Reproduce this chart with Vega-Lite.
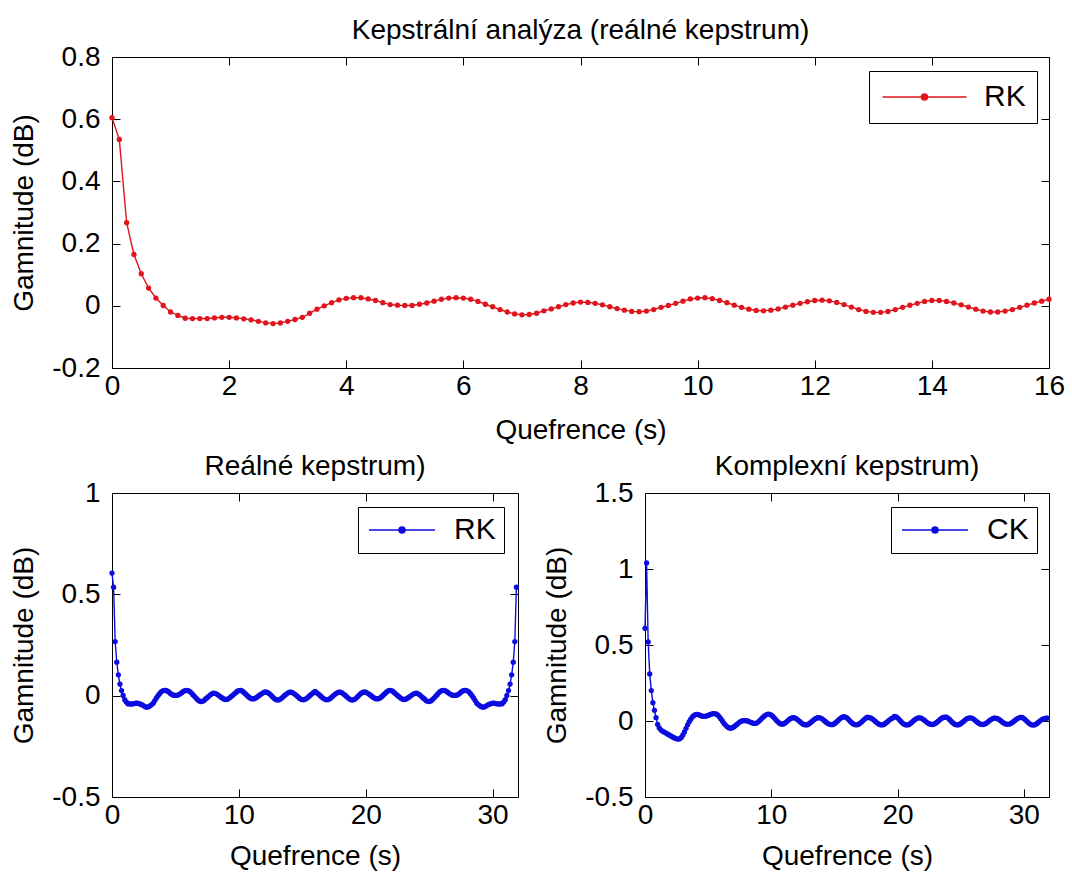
{
"$schema": "https://vega.github.io/schema/vega-lite/v6.json",
"background": "white",
"padding": {"left": 10, "top": 16, "right": 5, "bottom": 5},
"datasets": {
"rk": [
{"q":0,"v":0.605},{"q":0.125,"v":0.535},{"q":0.25,"v":0.267},{"q":0.375,"v":0.165},{"q":0.5,"v":0.103},{"q":0.625,"v":0.057},{"q":0.75,"v":0.025},{"q":0.875,"v":0.001},
{"q":1,"v":-0.02},{"q":1.125,"v":-0.031},{"q":1.25,"v":-0.04},{"q":1.375,"v":-0.041},{"q":1.5,"v":-0.041},{"q":1.625,"v":-0.041},{"q":1.75,"v":-0.039},{"q":1.875,"v":-0.037},
{"q":2,"v":-0.037},{"q":2.125,"v":-0.039},{"q":2.25,"v":-0.042},{"q":2.375,"v":-0.045},{"q":2.5,"v":-0.05},{"q":2.625,"v":-0.055},{"q":2.75,"v":-0.057},{"q":2.875,"v":-0.055},
{"q":3,"v":-0.05},{"q":3.125,"v":-0.044},{"q":3.25,"v":-0.037},{"q":3.375,"v":-0.024},{"q":3.5,"v":-0.011},{"q":3.625,"v":0},{"q":3.75,"v":0.01},{"q":3.875,"v":0.019},
{"q":4,"v":0.024},{"q":4.125,"v":0.026},{"q":4.25,"v":0.026},{"q":4.375,"v":0.022},{"q":4.5,"v":0.017},{"q":4.625,"v":0.01},{"q":4.75,"v":0.004},{"q":4.875,"v":0.002},
{"q":5,"v":0.001},{"q":5.125,"v":0.001},{"q":5.25,"v":0.005},{"q":5.375,"v":0.009},{"q":5.5,"v":0.015},{"q":5.625,"v":0.021},{"q":5.75,"v":0.025},{"q":5.875,"v":0.026},
{"q":6,"v":0.025},{"q":6.125,"v":0.021},{"q":6.25,"v":0.014},{"q":6.375,"v":0.005},{"q":6.5,"v":-0.003},{"q":6.625,"v":-0.012},{"q":6.75,"v":-0.02},{"q":6.875,"v":-0.026},
{"q":7,"v":-0.029},{"q":7.125,"v":-0.028},{"q":7.25,"v":-0.024},{"q":7.375,"v":-0.016},{"q":7.5,"v":-0.01},{"q":7.625,"v":-0.003},{"q":7.75,"v":0.004},{"q":7.875,"v":0.009},
{"q":8,"v":0.012},{"q":8.125,"v":0.011},{"q":8.25,"v":0.008},{"q":8.375,"v":0.003},{"q":8.5,"v":-0.003},{"q":8.625,"v":-0.009},{"q":8.75,"v":-0.014},{"q":8.875,"v":-0.018},
{"q":9,"v":-0.019},{"q":9.125,"v":-0.017},{"q":9.25,"v":-0.012},{"q":9.375,"v":-0.005},{"q":9.5,"v":0.001},{"q":9.625,"v":0.008},{"q":9.75,"v":0.015},{"q":9.875,"v":0.022},
{"q":10,"v":0.025},{"q":10.125,"v":0.026},{"q":10.25,"v":0.023},{"q":10.375,"v":0.017},{"q":10.5,"v":0.01},{"q":10.625,"v":0.002},{"q":10.75,"v":-0.005},{"q":10.875,"v":-0.011},
{"q":11,"v":-0.015},{"q":11.125,"v":-0.016},{"q":11.25,"v":-0.014},{"q":11.375,"v":-0.01},{"q":11.5,"v":-0.004},{"q":11.625,"v":0.002},{"q":11.75,"v":0.008},{"q":11.875,"v":0.013},
{"q":12,"v":0.017},{"q":12.125,"v":0.018},{"q":12.25,"v":0.016},{"q":12.375,"v":0.011},{"q":12.5,"v":0.004},{"q":12.625,"v":-0.004},{"q":12.75,"v":-0.012},{"q":12.875,"v":-0.018},
{"q":13,"v":-0.021},{"q":13.125,"v":-0.021},{"q":13.25,"v":-0.018},{"q":13.375,"v":-0.012},{"q":13.5,"v":-0.005},{"q":13.625,"v":0.002},{"q":13.75,"v":0.008},{"q":13.875,"v":0.014},
{"q":14,"v":0.017},{"q":14.125,"v":0.017},{"q":14.25,"v":0.014},{"q":14.375,"v":0.009},{"q":14.5,"v":0.003},{"q":14.625,"v":-0.004},{"q":14.75,"v":-0.011},{"q":14.875,"v":-0.017},
{"q":15,"v":-0.02},{"q":15.125,"v":-0.02},{"q":15.25,"v":-0.017},{"q":15.375,"v":-0.012},{"q":15.5,"v":-0.005},{"q":15.625,"v":0.002},{"q":15.75,"v":0.009},{"q":15.875,"v":0.015},
{"q":16,"v":0.021},{"q":16.125,"v":0.015},{"q":16.25,"v":0.009},{"q":16.375,"v":0.002},{"q":16.5,"v":-0.005},{"q":16.625,"v":-0.012},{"q":16.75,"v":-0.017},{"q":16.875,"v":-0.02},
{"q":17,"v":-0.02},{"q":17.125,"v":-0.017},{"q":17.25,"v":-0.011},{"q":17.375,"v":-0.004},{"q":17.5,"v":0.003},{"q":17.625,"v":0.009},{"q":17.75,"v":0.014},{"q":17.875,"v":0.017},
{"q":18,"v":0.017},{"q":18.125,"v":0.014},{"q":18.25,"v":0.008},{"q":18.375,"v":0.002},{"q":18.5,"v":-0.005},{"q":18.625,"v":-0.012},{"q":18.75,"v":-0.018},{"q":18.875,"v":-0.021},
{"q":19,"v":-0.021},{"q":19.125,"v":-0.018},{"q":19.25,"v":-0.012},{"q":19.375,"v":-0.004},{"q":19.5,"v":0.004},{"q":19.625,"v":0.011},{"q":19.75,"v":0.016},{"q":19.875,"v":0.018},
{"q":20,"v":0.017},{"q":20.125,"v":0.013},{"q":20.25,"v":0.008},{"q":20.375,"v":0.002},{"q":20.5,"v":-0.004},{"q":20.625,"v":-0.01},{"q":20.75,"v":-0.014},{"q":20.875,"v":-0.016},
{"q":21,"v":-0.015},{"q":21.125,"v":-0.011},{"q":21.25,"v":-0.005},{"q":21.375,"v":0.002},{"q":21.5,"v":0.01},{"q":21.625,"v":0.017},{"q":21.75,"v":0.023},{"q":21.875,"v":0.026},
{"q":22,"v":0.025},{"q":22.125,"v":0.022},{"q":22.25,"v":0.015},{"q":22.375,"v":0.008},{"q":22.5,"v":0.001},{"q":22.625,"v":-0.005},{"q":22.75,"v":-0.012},{"q":22.875,"v":-0.017},
{"q":23,"v":-0.019},{"q":23.125,"v":-0.018},{"q":23.25,"v":-0.014},{"q":23.375,"v":-0.009},{"q":23.5,"v":-0.003},{"q":23.625,"v":0.003},{"q":23.75,"v":0.008},{"q":23.875,"v":0.011},
{"q":24,"v":0.012},{"q":24.125,"v":0.009},{"q":24.25,"v":0.004},{"q":24.375,"v":-0.003},{"q":24.5,"v":-0.01},{"q":24.625,"v":-0.016},{"q":24.75,"v":-0.024},{"q":24.875,"v":-0.028},
{"q":25,"v":-0.029},{"q":25.125,"v":-0.026},{"q":25.25,"v":-0.02},{"q":25.375,"v":-0.012},{"q":25.5,"v":-0.003},{"q":25.625,"v":0.005},{"q":25.75,"v":0.014},{"q":25.875,"v":0.021},
{"q":26,"v":0.025},{"q":26.125,"v":0.026},{"q":26.25,"v":0.025},{"q":26.375,"v":0.021},{"q":26.5,"v":0.015},{"q":26.625,"v":0.009},{"q":26.75,"v":0.005},{"q":26.875,"v":0.001},
{"q":27,"v":0.001},{"q":27.125,"v":0.002},{"q":27.25,"v":0.004},{"q":27.375,"v":0.01},{"q":27.5,"v":0.017},{"q":27.625,"v":0.022},{"q":27.75,"v":0.026},{"q":27.875,"v":0.026},
{"q":28,"v":0.024},{"q":28.125,"v":0.019},{"q":28.25,"v":0.01},{"q":28.375,"v":0},{"q":28.5,"v":-0.011},{"q":28.625,"v":-0.024},{"q":28.75,"v":-0.037},{"q":28.875,"v":-0.044},
{"q":29,"v":-0.05},{"q":29.125,"v":-0.055},{"q":29.25,"v":-0.057},{"q":29.375,"v":-0.055},{"q":29.5,"v":-0.05},{"q":29.625,"v":-0.045},{"q":29.75,"v":-0.042},{"q":29.875,"v":-0.039},
{"q":30,"v":-0.037},{"q":30.125,"v":-0.037},{"q":30.25,"v":-0.039},{"q":30.375,"v":-0.041},{"q":30.5,"v":-0.041},{"q":30.625,"v":-0.041},{"q":30.75,"v":-0.04},{"q":30.875,"v":-0.031},
{"q":31,"v":-0.02},{"q":31.125,"v":0.001},{"q":31.25,"v":0.025},{"q":31.375,"v":0.057},{"q":31.5,"v":0.103},{"q":31.625,"v":0.165},{"q":31.75,"v":0.267},{"q":31.875,"v":0.535}
],
"ck": [
{"q":0,"v":0.61},{"q":0.125,"v":1.04},{"q":0.25,"v":0.52},{"q":0.375,"v":0.31},{"q":0.5,"v":0.2},{"q":0.625,"v":0.12},{"q":0.75,"v":0.07},{"q":0.875,"v":0.022},
{"q":1,"v":-0.022},{"q":1.125,"v":-0.045},{"q":1.25,"v":-0.058},{"q":1.375,"v":-0.066},{"q":1.5,"v":-0.072},{"q":1.625,"v":-0.078},{"q":1.75,"v":-0.084},{"q":1.875,"v":-0.09},
{"q":2,"v":-0.096},{"q":2.125,"v":-0.102},{"q":2.25,"v":-0.108},{"q":2.375,"v":-0.113},{"q":2.5,"v":-0.117},{"q":2.625,"v":-0.119},{"q":2.75,"v":-0.117},{"q":2.875,"v":-0.108},
{"q":3,"v":-0.092},{"q":3.125,"v":-0.072},{"q":3.25,"v":-0.048},{"q":3.375,"v":-0.025},{"q":3.5,"v":-0.005},{"q":3.625,"v":0.012},{"q":3.75,"v":0.027},{"q":3.875,"v":0.037},
{"q":4,"v":0.042},{"q":4.125,"v":0.043},{"q":4.25,"v":0.041},{"q":4.375,"v":0.037},{"q":4.5,"v":0.033},{"q":4.625,"v":0.031},{"q":4.75,"v":0.031},{"q":4.875,"v":0.033},
{"q":5,"v":0.037},{"q":5.125,"v":0.041},{"q":5.25,"v":0.045},{"q":5.375,"v":0.048},{"q":5.5,"v":0.049},{"q":5.625,"v":0.047},{"q":5.75,"v":0.04},{"q":5.875,"v":0.029},
{"q":6,"v":0.015},{"q":6.125,"v":0},{"q":6.25,"v":-0.014},{"q":6.375,"v":-0.027},{"q":6.5,"v":-0.037},{"q":6.625,"v":-0.044},{"q":6.75,"v":-0.047},{"q":6.875,"v":-0.046},
{"q":7,"v":-0.041},{"q":7.125,"v":-0.033},{"q":7.25,"v":-0.024},{"q":7.375,"v":-0.015},{"q":7.5,"v":-0.007},{"q":7.625,"v":-0.001},{"q":7.75,"v":0.002},{"q":7.875,"v":0.003},
{"q":8,"v":0.002},{"q":8.125,"v":0},{"q":8.25,"v":-0.004},{"q":8.375,"v":-0.009},{"q":8.5,"v":-0.013},{"q":8.625,"v":-0.016},{"q":8.75,"v":-0.016},{"q":8.875,"v":-0.012},
{"q":9,"v":-0.004},{"q":9.125,"v":0.006},{"q":9.25,"v":0.017},{"q":9.375,"v":0.027},{"q":9.5,"v":0.036},{"q":9.625,"v":0.042},{"q":9.75,"v":0.045},{"q":9.875,"v":0.044},
{"q":10,"v":0.039},{"q":10.125,"v":0.03},{"q":10.25,"v":0.019},{"q":10.375,"v":0.007},{"q":10.5,"v":-0.004},{"q":10.625,"v":-0.013},{"q":10.75,"v":-0.019},{"q":10.875,"v":-0.021},
{"q":11,"v":-0.018},{"q":11.125,"v":-0.011},{"q":11.25,"v":-0.002},{"q":11.375,"v":0.007},{"q":11.5,"v":0.015},{"q":11.625,"v":0.02},{"q":11.75,"v":0.022},{"q":11.875,"v":0.02},
{"q":12,"v":0.014},{"q":12.125,"v":0.006},{"q":12.25,"v":-0.003},{"q":12.375,"v":-0.012},{"q":12.5,"v":-0.019},{"q":12.625,"v":-0.024},{"q":12.75,"v":-0.026},{"q":12.875,"v":-0.024},
{"q":13,"v":-0.018},{"q":13.125,"v":-0.01},{"q":13.25,"v":-0.001},{"q":13.375,"v":0.008},{"q":13.5,"v":0.015},{"q":13.625,"v":0.02},{"q":13.75,"v":0.022},{"q":13.875,"v":0.021},
{"q":14,"v":0.016},{"q":14.125,"v":0.008},{"q":14.25,"v":-0.001},{"q":14.375,"v":-0.01},{"q":14.5,"v":-0.017},{"q":14.625,"v":-0.022},{"q":14.75,"v":-0.024},{"q":14.875,"v":-0.023},
{"q":15,"v":-0.018},{"q":15.125,"v":-0.01},{"q":15.25,"v":0},{"q":15.375,"v":0.01},{"q":15.5,"v":0.019},{"q":15.625,"v":0.025},{"q":15.75,"v":0.028},{"q":15.875,"v":0.026},
{"q":16,"v":0.02},{"q":16.125,"v":0.01},{"q":16.25,"v":-0.001},{"q":16.375,"v":-0.011},{"q":16.5,"v":-0.019},{"q":16.625,"v":-0.024},{"q":16.75,"v":-0.025},{"q":16.875,"v":-0.023},
{"q":17,"v":-0.017},{"q":17.125,"v":-0.009},{"q":17.25,"v":0.001},{"q":17.375,"v":0.011},{"q":17.5,"v":0.019},{"q":17.625,"v":0.025},{"q":17.75,"v":0.022},{"q":17.875,"v":0.02},
{"q":18,"v":0.014},{"q":18.125,"v":0.006},{"q":18.25,"v":-0.003},{"q":18.375,"v":-0.012},{"q":18.5,"v":-0.019},{"q":18.625,"v":-0.024},{"q":18.75,"v":-0.026},{"q":18.875,"v":-0.024},
{"q":19,"v":-0.018},{"q":19.125,"v":-0.01},{"q":19.25,"v":-0.001},{"q":19.375,"v":0.008},{"q":19.5,"v":0.015},{"q":19.625,"v":0.02},{"q":19.75,"v":0.03},{"q":19.875,"v":0.028},
{"q":20,"v":0.021},{"q":20.125,"v":0.011},{"q":20.25,"v":-0.001},{"q":20.375,"v":-0.012},{"q":20.5,"v":-0.02},{"q":20.625,"v":-0.025},{"q":20.75,"v":-0.026},{"q":20.875,"v":-0.024},
{"q":21,"v":-0.018},{"q":21.125,"v":-0.01},{"q":21.25,"v":0},{"q":21.375,"v":0.009},{"q":21.5,"v":0.016},{"q":21.625,"v":0.02},{"q":21.75,"v":0.021},{"q":21.875,"v":0.019},
{"q":22,"v":0.013},{"q":22.125,"v":0.005},{"q":22.25,"v":-0.004},{"q":22.375,"v":-0.012},{"q":22.5,"v":-0.018},{"q":22.625,"v":-0.022},{"q":22.75,"v":-0.023},{"q":22.875,"v":-0.021},
{"q":23,"v":-0.016},{"q":23.125,"v":-0.008},{"q":23.25,"v":0.001},{"q":23.375,"v":0.01},{"q":23.5,"v":0.018},{"q":23.625,"v":0.023},{"q":23.75,"v":0.026},{"q":23.875,"v":0.025},
{"q":24,"v":0.019},{"q":24.125,"v":0.01},{"q":24.25,"v":-0.001},{"q":24.375,"v":-0.011},{"q":24.5,"v":-0.019},{"q":24.625,"v":-0.024},{"q":24.75,"v":-0.026},{"q":24.875,"v":-0.024},
{"q":25,"v":-0.018},{"q":25.125,"v":-0.01},{"q":25.25,"v":-0.001},{"q":25.375,"v":0.008},{"q":25.5,"v":0.015},{"q":25.625,"v":0.019},{"q":25.75,"v":0.021},{"q":25.875,"v":0.019},
{"q":26,"v":0.014},{"q":26.125,"v":0.006},{"q":26.25,"v":-0.003},{"q":26.375,"v":-0.011},{"q":26.5,"v":-0.018},{"q":26.625,"v":-0.022},{"q":26.75,"v":-0.023},{"q":26.875,"v":-0.021},
{"q":27,"v":-0.016},{"q":27.125,"v":-0.009},{"q":27.25,"v":0},{"q":27.375,"v":0.008},{"q":27.5,"v":0.014},{"q":27.625,"v":0.018},{"q":27.75,"v":0.019},{"q":27.875,"v":0.017},
{"q":28,"v":0.012},{"q":28.125,"v":0.005},{"q":28.25,"v":-0.003},{"q":28.375,"v":-0.011},{"q":28.5,"v":-0.017},{"q":28.625,"v":-0.021},{"q":28.75,"v":-0.022},{"q":28.875,"v":-0.02},
{"q":29,"v":-0.015},{"q":29.125,"v":-0.008},{"q":29.25,"v":0},{"q":29.375,"v":0.009},{"q":29.5,"v":0.016},{"q":29.625,"v":0.021},{"q":29.75,"v":0.024},{"q":29.875,"v":0.023},
{"q":30,"v":0.017},{"q":30.125,"v":0.008},{"q":30.25,"v":-0.002},{"q":30.375,"v":-0.012},{"q":30.5,"v":-0.02},{"q":30.625,"v":-0.025},{"q":30.75,"v":-0.027},{"q":30.875,"v":-0.025},
{"q":31,"v":-0.019},{"q":31.125,"v":-0.011},{"q":31.25,"v":-0.002},{"q":31.375,"v":0.006},{"q":31.5,"v":0.012},{"q":31.625,"v":0.016},{"q":31.75,"v":0.018},{"q":31.875,"v":0.019}
]
},
"config": {
  "font": "Liberation Sans",
  "view": {"stroke": "black", "strokeWidth": 1},
  "axis": {"domain": false, "grid": false, "labelFlush": false, "tickColor": "black", "tickSize": -8, "tickWidth": 1, "labelFontSize": 28, "labelColor": "black", "labelFont": "Liberation Sans", "titleFontSize": 28, "titleColor": "black", "titleFontWeight": "normal", "titleFont": "Liberation Sans"},
  "axisX": {"labelPadding": 12, "titlePadding": 16},
  "axisY": {"labelPadding": 20, "titlePadding": 13},
  "title": {"fontSize": 28, "fontWeight": "normal", "color": "black", "font": "Liberation Sans", "offset": -2, "anchor": "middle", "frame": "group"},
  "legend": {"strokeColor": "black", "fillColor": "white", "labelFontSize": 30, "labelColor": "black", "labelFont": "Liberation Sans", "cornerRadius": 0, "symbolStrokeWidth": 1.5}
},
"spacing": 125,
"bounds": "flush",
"resolve": {"scale": {"color": "independent"}, "legend": {"color": "independent"}},
"vconcat": [
{
  "width": 937, "height": 311,
  "title": "Kepstrální analýza (reálné kepstrum)",
  "data": {"name": "rk"},
  "transform": [{"filter": "datum.q <= 16"}],
  "resolve": {"axis": {"x": "independent", "y": "independent"}},
  "layer": [
    {
      "mark": {"type": "line", "strokeWidth": 1.4},
      "encoding": {
        "x": {"field": "q", "type": "quantitative", "scale": {"domain": [0, 16], "nice": false}, "axis": {"title": "Quefrence (s)", "values": [0,2,4,6,8,10,12,14,16]}},
        "y": {"field": "v", "type": "quantitative", "scale": {"domain": [-0.2, 0.8], "nice": false, "zero": false}, "axis": {"title": "Gamnitude (dB)", "values": [-0.2,0,0.2,0.4,0.6,0.8], "labelExpr": "datum.value < 0 ? '-' + format(-datum.value, '~g') : format(datum.value, '~g')"}},
        "color": {"datum": "RK", "type": "nominal", "scale": {"range": ["#e0141c"]}, "legend": {"title": null, "orient": "none", "legendX": 757, "legendY": 14, "padding": 11, "symbolType": "M-1,0H5.72M2.36,0m-0.24,0a0.24,0.24,0,1,0,0.48,0a0.24,0.24,0,1,0,-0.48,0Z", "symbolSize": 625, "labelOffset": 74, "symbolStrokeColor": "#e0141c", "symbolFillColor": "#e0141c"}}
      }
    },
    {
      "mark": {"type": "point", "filled": true, "size": 28, "opacity": 1},
      "encoding": {
        "x": {"field": "q", "type": "quantitative", "axis": {"orient": "top", "labels": false, "title": null, "values": [0,2,4,6,8,10,12,14,16]}},
        "y": {"field": "v", "type": "quantitative", "axis": {"orient": "right", "labels": false, "title": null, "values": [-0.2,0,0.2,0.4,0.6,0.8]}},
        "color": {"datum": "RK", "type": "nominal"}
      }
    }
  ]
},
{
  "spacing": 127,
  "bounds": "flush",
  "resolve": {"scale": {"color": "independent"}, "legend": {"color": "independent"}},
  "hconcat": [
    {
      "width": 406, "height": 304,
      "title": "Reálné kepstrum)",
      "data": {"name": "rk"},
      "resolve": {"axis": {"x": "independent", "y": "independent"}},
      "layer": [
        {
          "mark": {"type": "line", "strokeWidth": 1.4},
          "encoding": {
            "x": {"field": "q", "type": "quantitative", "scale": {"domain": [0, 32], "nice": false}, "axis": {"title": "Quefrence (s)", "titlePadding": 13, "values": [0,10,20,30]}},
            "y": {"field": "v", "type": "quantitative", "scale": {"domain": [-0.5, 1], "nice": false, "zero": false}, "axis": {"title": "Gamnitude (dB)", "values": [-0.5,0,0.5,1], "labelExpr": "datum.value < 0 ? '-' + format(-datum.value, '~g') : format(datum.value, '~g')"}},
            "color": {"datum": "RK", "type": "nominal", "scale": {"range": ["#0c0ce0"]}, "legend": {"title": null, "orient": "none", "legendX": 246, "legendY": 14, "padding": 8, "symbolType": "M-1,0H4.5M1.75,0m-0.25,0a0.25,0.25,0,1,0,0.5,0a0.25,0.25,0,1,0,-0.5,0Z", "symbolSize": 576, "labelOffset": 58, "symbolStrokeColor": "#0c0ce0", "symbolFillColor": "#0c0ce0"}}
          }
        },
        {
          "mark": {"type": "point", "filled": true, "size": 28, "opacity": 1},
          "encoding": {
            "x": {"field": "q", "type": "quantitative", "axis": {"orient": "top", "labels": false, "title": null, "values": [0,10,20,30]}},
            "y": {"field": "v", "type": "quantitative", "axis": {"orient": "right", "labels": false, "title": null, "values": [-0.5,0,0.5,1]}},
            "color": {"datum": "RK", "type": "nominal"}
          }
        }
      ]
    },
    {
      "width": 404, "height": 304,
      "title": "Komplexní kepstrum)",
      "data": {"name": "ck"},
      "resolve": {"axis": {"x": "independent", "y": "independent"}},
      "layer": [
        {
          "mark": {"type": "line", "strokeWidth": 1.4},
          "encoding": {
            "x": {"field": "q", "type": "quantitative", "scale": {"domain": [0, 32], "nice": false}, "axis": {"title": "Quefrence (s)", "titlePadding": 13, "values": [0,10,20,30]}},
            "y": {"field": "v", "type": "quantitative", "scale": {"domain": [-0.5, 1.5], "nice": false, "zero": false}, "axis": {"title": "Gamnitude (dB)", "values": [-0.5,0,0.5,1,1.5], "labelExpr": "datum.value < 0 ? '-' + format(-datum.value, '~g') : format(datum.value, '~g')"}},
            "color": {"datum": "CK", "type": "nominal", "scale": {"range": ["#0c0ce0"]}, "legend": {"title": null, "orient": "none", "legendX": 246, "legendY": 14, "padding": 8, "symbolType": "M-1,0H4.5M1.75,0m-0.25,0a0.25,0.25,0,1,0,0.5,0a0.25,0.25,0,1,0,-0.5,0Z", "symbolSize": 576, "labelOffset": 58, "symbolStrokeColor": "#0c0ce0", "symbolFillColor": "#0c0ce0"}}
          }
        },
        {
          "mark": {"type": "point", "filled": true, "size": 28, "opacity": 1},
          "encoding": {
            "x": {"field": "q", "type": "quantitative", "axis": {"orient": "top", "labels": false, "title": null, "values": [0,10,20,30]}},
            "y": {"field": "v", "type": "quantitative", "axis": {"orient": "right", "labels": false, "title": null, "values": [-0.5,0,0.5,1,1.5]}},
            "color": {"datum": "CK", "type": "nominal"}
          }
        }
      ]
    }
  ]
}
]
}
